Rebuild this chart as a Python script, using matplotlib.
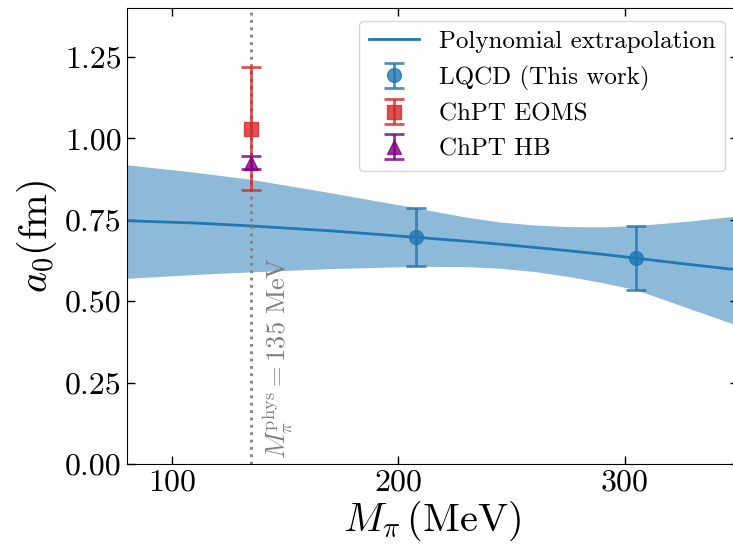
import matplotlib
matplotlib.use('Agg')
import matplotlib.pyplot as plt

plt.rcParams['font.family'] = 'serif'
plt.rcParams['font.serif'] = ['cmr10']
plt.rcParams['mathtext.fontset'] = 'cm'
plt.rcParams['axes.formatter.use_mathtext'] = True

# polynomial extrapolation (central value and band)
fit_x = [80, 110, 135, 170, 208, 230, 245, 260, 275, 290, 305, 327, 350]
fit_y = [0.747, 0.740, 0.731, 0.716, 0.696, 0.684, 0.675, 0.665, 0.655, 0.644, 0.632, 0.614, 0.596]
fit_hi = [0.919, 0.896, 0.874, 0.833, 0.786, 0.758, 0.743, 0.734, 0.729, 0.728, 0.732, 0.745, 0.762]
fit_lo = [0.570, 0.582, 0.590, 0.600, 0.607, 0.606, 0.601, 0.591, 0.576, 0.557, 0.535, 0.481, 0.425]

# lattice points
lqcd_x = [208, 305]
lqcd_y = [0.697, 0.633]
lqcd_err = [0.090, 0.099]

# ChPT at the physical pion mass
mpi_phys = 135
eoms_y, eoms_err = 1.03, 0.19
hb_y, hb_err = 0.925, 0.02

fig = plt.figure(figsize=(7.33, 5.47), dpi=100)
ax = fig.add_axes([0.1728, 0.1517, 0.834, 0.8336])

ax.fill_between(fit_x, fit_lo, fit_hi, color='#1f77b4', alpha=0.5, lw=0)
ax.plot(fit_x, fit_y, '-', color='#1f77b4', lw=2, label='Polynomial extrapolation')
ax.axvline(mpi_phys, color='gray', ls=':', lw=2)

ax.errorbar(lqcd_x, lqcd_y, yerr=lqcd_err, fmt='o', color='#1f77b4', alpha=0.8,
            ms=10, capsize=7, elinewidth=2, capthick=2, label='LQCD (This work)')
ax.errorbar([mpi_phys], [eoms_y], yerr=[eoms_err], fmt='s', color='#d62728', alpha=0.8,
            ms=10, capsize=7, elinewidth=2, capthick=2, label='ChPT EOMS')
ax.errorbar([mpi_phys], [hb_y], yerr=[hb_err], fmt='^', color='purple', alpha=0.8,
            ms=10, capsize=7, elinewidth=2, capthick=2, label='ChPT HB')

ax.text(139.0, 0.015, r'$M_\pi^{\rm phys} = 135\ \mathrm{MeV}$', rotation=90,
        color='gray', fontsize=19, ha='left', va='bottom')

ax.set_xlim(80, 350)
ax.set_ylim(0, 1.4)
ax.set_xticks([100, 200, 300])
ax.set_yticks([0, 0.25, 0.5, 0.75, 1.0, 1.25])
ax.set_yticklabels(['0.00', '0.25', '0.50', '0.75', '1.00', '1.25'])
ax.tick_params(direction='in', top=True, right=True, labelsize=23, length=6, width=1)
ax.set_xlabel(r'$M_\pi\,(\mathrm{MeV})$', fontsize=29, labelpad=2)
ax.set_ylabel(r'$a_0(\mathrm{fm})$', fontsize=29, labelpad=4)
ax.legend(loc='upper right', fontsize=18)

fig.savefig('out.png', dpi=100)
